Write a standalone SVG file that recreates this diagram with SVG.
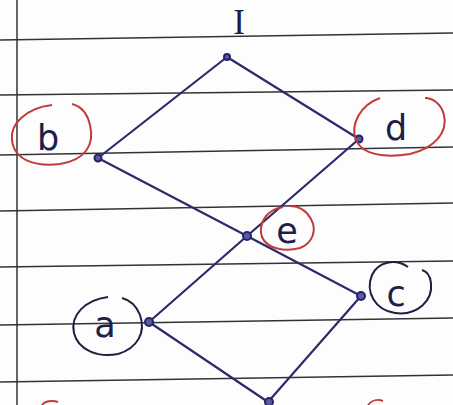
<svg xmlns="http://www.w3.org/2000/svg" width="453" height="405" viewBox="0 0 453 405">
<style>
.rule{stroke:#333;stroke-width:1.5;fill:none}
.edge{stroke:#2a2a6c;stroke-width:2.2;fill:none;stroke-linecap:round}
.dot{stroke:#23236a;stroke-width:2;fill:#5a5aa0}
.lbl{font-family:"DejaVu Sans","Liberation Sans",sans-serif;font-size:35px;fill:#1e1e4a;text-anchor:middle}
.red{stroke:#c43a3a;stroke-width:2;fill:none}
.blk{stroke:#1e1e40;stroke-width:2;fill:none}
</style>
<rect width="453" height="405" fill="#fdfdfd"/>
<g id="paper">
<path class="rule" d="M0 40 L453 33"/>
<path class="rule" d="M0 95 L453 90"/>
<path class="rule" d="M0 155 L453 147"/>
<path class="rule" d="M0 211 L453 203"/>
<path class="rule" d="M0 267 L453 261"/>
<path class="rule" d="M0 325 L453 318"/>
<path class="rule" d="M0 382 L453 375"/>
<path class="rule" d="M17 0 L17 405" stroke-width="1.7"/>
</g>
<g id="connectors">
<path class="edge" d="M227 57 L98 158"/>
<path class="edge" d="M227 57 L359 139"/>
<path class="edge" d="M98 158 L247 236"/>
<path class="edge" d="M359 139 L247 236"/>
<path class="edge" d="M247 236 L149 322"/>
<path class="edge" d="M247 236 L361 296"/>
<path class="edge" d="M149 322 L268 402"/>
<path class="edge" d="M361 296 L268 402"/>
</g>
<g id="node-I">
<circle class="dot" cx="227" cy="57" r="3" fill="#fff"/>
<text x="239" y="34" font-family="Liberation Serif,serif" font-size="35" fill="#1e1e4a" text-anchor="middle">I</text>
</g>
<g id="node-b">
<circle class="dot" cx="98" cy="158" r="3.5"/>
<path class="red" d="M52 105 C25 108 10 125 12 140 C14 160 35 167 60 164 C85 160 95 145 90 125 C87 112 80 106 72 104"/>
<text class="lbl" x="48" y="150">b</text>
</g>
<g id="node-d">
<circle class="dot" cx="359" cy="139" r="3.5"/>
<path class="red" d="M380 98 C360 105 350 125 356 140 C362 155 385 158 410 154 C435 148 448 132 444 115 C441 103 432 98 425 98"/>
<text class="lbl" x="396" y="140">d</text>
</g>
<g id="node-e">
<circle class="dot" cx="247" cy="236" r="4"/>
<path class="red" d="M283 207 C265 210 258 225 262 237 C267 249 285 252 300 248 C313 243 317 230 311 219 C306 210 298 206 290 206"/>
<text class="lbl" x="287" y="243">e</text>
</g>
<g id="node-c">
<circle class="dot" cx="361" cy="296" r="4"/>
<path class="blk" d="M408 267 C395 258 378 262 372 275 C365 292 375 310 395 313 C418 316 433 300 431 283 C430 275 426 271 422 270"/>
<text class="lbl" x="396" y="306">c</text>
</g>
<g id="node-a">
<circle class="dot" cx="149" cy="322" r="4"/>
<path class="blk" d="M108 297 C85 300 70 315 74 333 C78 350 98 358 118 354 C138 348 146 332 140 315 C136 305 130 300 122 298"/>
<text class="lbl" x="105" y="337">a</text>
</g>
<g id="node-bottom">
<circle class="dot" cx="269" cy="402" r="4" fill="#fff"/>
<path class="red" d="M42 405 C45 401 52 400 58 402"/>
<path class="red" d="M368 405 C372 400 378 399 383 401"/>
</g>
</svg>
